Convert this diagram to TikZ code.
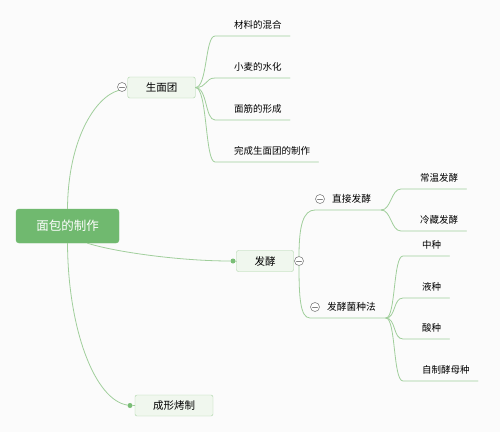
\documentclass[tikz,border=0pt]{standalone}
\usepackage{fontspec}
\setmainfont{Noto Sans CJK SC}
\usetikzlibrary{positioning}
\definecolor{linkgreen}{RGB}{160,206,155}
\definecolor{rootgreen}{RGB}{112,185,111}
\definecolor{boxfill}{RGB}{240,247,238}
\definecolor{boxline}{RGB}{170,212,165}
\definecolor{dotgreen}{RGB}{122,190,118}
\definecolor{knobgray}{RGB}{130,130,130}
\definecolor{bggray}{RGB}{251,251,251}

\begin{document}
\begin{tikzpicture}[line cap=round,line join=round,x=1.0pt,y=-1.0pt,
	rootbox/.style={fill=rootgreen,draw=rootgreen,rounded corners=3pt,text=white,font=\fontsize{12.5}{14}\selectfont,minimum width=103pt,minimum height=34pt,inner sep=0pt},
	topicbox/.style={fill=boxfill,draw=boxline,rounded corners=2pt,font=\fontsize{10.5}{12}\selectfont,minimum height=21pt,inner xsep=18pt,inner ysep=0pt},
	branch/.style={anchor=south west,inner xsep=10pt,inner ysep=6.5pt,font=\fontsize{9.7}{11}\selectfont,execute at begin node={\hspace*{7pt}}},
	leaf/.style={anchor=south west,inner xsep=8pt,inner ysep=6.5pt,font=\fontsize{9.5}{11}\selectfont,execute at begin node={\hspace*{11pt}}},
	link/.style={draw=linkgreen,line width=0.8pt},
	knob/.style={circle,draw=knobgray,fill=white,line width=0.6pt,minimum size=9pt,inner sep=0pt,
		path picture={\draw[knobgray,line width=0.6pt] ([xshift=-2.5pt]path picture bounding box.center) -- ([xshift=2.5pt]path picture bounding box.center);}},
	dot/.style={circle,fill=dotgreen,minimum size=5pt,inner sep=0pt}]
	\fill[bggray] (0,0) rectangle (500,432);
	\useasboundingbox (0,0) rectangle (500,432);
	\node[rootbox] (bread) at (67.5,226) {面包的制作};
	\node[topicbox] (dough) at (161.5,87.5) {生面团};
	\node[topicbox] (ferment) at (265,261) {发酵};
	\node[topicbox] (bake) at (174,405.5) {成形烤制};
	\node[leaf] (mix) at (215,36) {材料的混合};
	\node[leaf] (hydrate) at (215,78) {小麦的水化};
	\node[leaf] (gluten) at (215,120) {面筋的形成};
	\node[leaf] (finish) at (215,162) {完成生面团的制作};
	\node[branch] (direct) at (315,210) {直接发酵};
	\node[branch] (starter) at (310,318) {发酵菌种法};
	\node[leaf] (room) at (401,189) {常温发酵};
	\node[leaf] (cold) at (401,231) {冷藏发酵};
	\node[leaf] (sponge) at (403,256) {中种};
	\node[leaf] (poolish) at (403,298) {液种};
	\node[leaf] (sour) at (403,339) {酸种};
	\node[leaf] (yeast) at (403,381) {自制酵母种};
	\node[knob] (doughknob) at (122,87) {};
	\node[knob] (fermentknob) at (299,261) {};
	\node[knob] (directknob) at (320,199) {};
	\node[knob] (starterknob) at (315,307) {};
	\node[dot] (fermentdot) at (233,261) {};
	\node[dot] (bakedot) at (130,405.5) {};
	\draw[link] (bread.north) .. controls (68,140) and (95,97) .. (doughknob.south west);
	\draw[link] ([xshift=20pt]bread.south) .. controls (115,252) and (180,261) .. (fermentdot);
	\draw[link] (bread.south) .. controls (68,330) and (95,400) .. (bakedot);
	\draw[link] (dough.east) .. controls +(12,0) and +(-10,0) .. (mix.south west) -- (mix.south east);
	\draw[link] (dough.east) .. controls +(12,0) and +(-10,0) .. (hydrate.south west) -- (hydrate.south east);
	\draw[link] (dough.east) .. controls +(12,0) and +(-10,0) .. (gluten.south west) -- (gluten.south east);
	\draw[link] (dough.east) .. controls +(12,0) and +(-10,0) .. (finish.south west) -- (finish.south east);
	\draw[link] (fermentknob.north) .. controls +(0,-30) and +(-12,0) .. (direct.south west) -- (direct.south east);
	\draw[link] (fermentknob.south) .. controls +(0,30) and +(-10,0) .. (starter.south west) -- (starter.south east);
	\draw[link] (direct.south east) .. controls +(10,0) and +(-10,0) .. (room.south west) -- (room.south east);
	\draw[link] (direct.south east) .. controls +(10,0) and +(-10,0) .. (cold.south west) -- (cold.south east);
	\draw[link] (starter.south east) .. controls +(10,0) and +(-10,0) .. (sponge.south west) -- (sponge.south east);
	\draw[link] (starter.south east) .. controls +(10,0) and +(-10,0) .. (poolish.south west) -- (poolish.south east);
	\draw[link] (starter.south east) .. controls +(10,0) and +(-10,0) .. (sour.south west) -- (sour.south east);
	\draw[link] (starter.south east) .. controls +(10,0) and +(-10,0) .. (yeast.south west) -- (yeast.south east);
	\draw[link] (fermentdot) -- (ferment.west);
	\draw[link] (bakedot) -- (bake.west);
\end{tikzpicture}
\end{document}
